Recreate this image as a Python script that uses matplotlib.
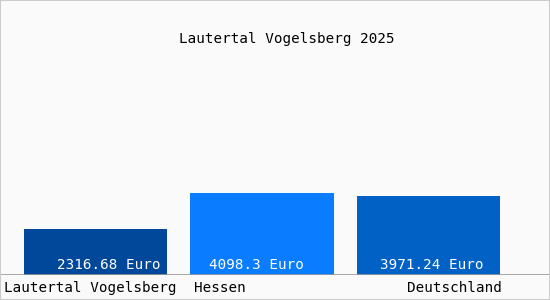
import matplotlib.pyplot as plt
from matplotlib.patches import Rectangle

categories = ["Lautertal Vogelsberg", "Hessen", "Deutschland"]
values = [2316.68, 4098.3, 3971.24]
value_labels = ["2316.68 Euro", "4098.3 Euro", "3971.24 Euro"]
title = "Lautertal Vogelsberg 2025"

bar_colors = ['#01479a', '#0a7cff', '#0161c5']

plt.rcParams['font.family'] = ['DejaVu Sans Mono']
fs = 10.3

fig = plt.figure(figsize=(5.5, 3), dpi=100, facecolor='#fafafa')
fig.patches.append(Rectangle((0, 0), 1, 1, transform=fig.transFigure,
                             fill=False, edgecolor='#cccccc', linewidth=1.5))

# axes spans full width, bottom at the baseline
ax = fig.add_axes([0, 25 / 300, 1, 275 / 300])
ax.set_facecolor('none')
for s in ax.spines.values():
    s.set_visible(False)
ax.set_xticks([])
ax.set_yticks([])

x = list(range(len(values)))
ax.bar(x, values, width=0.86, color=bar_colors, zorder=2)
ax.set_xlim(-0.574, 2.73)
ax.set_ylim(0, 13750)
ax.axhline(0, color='#999999', linewidth=1.2, zorder=3)

# value labels inside the bars
label_dx = [13, -6, 3]
for i, (v, lab) in enumerate(zip(values, value_labels)):
    ax.annotate(lab, (x[i], 0), xytext=(label_dx[i], 3), textcoords='offset pixels',
                ha='center', va='bottom', color='white', fontsize=fs, zorder=4)

# category labels under the axis
half = 0.43
cat_pos = [(x[0] - half, -20, 'left'), (x[1] - half, 4, 'left'), (x[2] + half, 2, 'right')]
for cat, (px, dx, ha) in zip(categories, cat_pos):
    ax.annotate(cat, (px, 0), xytext=(dx, -13), textcoords='offset pixels',
                ha=ha, va='center', color='black', fontsize=fs, annotation_clip=False)

fig.text(286.5 / 550, 1 - 39 / 300, title, ha='center', va='center', fontsize=fs, color='black')

fig.savefig("out.png", dpi=100, facecolor=fig.get_facecolor())
